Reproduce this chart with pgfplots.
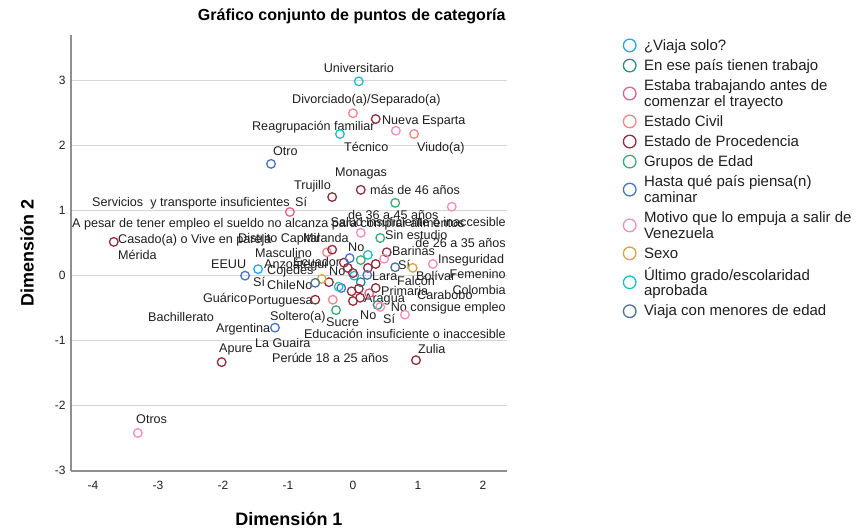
\documentclass[border=0pt]{standalone}
\usepackage{fontspec}
\setmainfont{Liberation Sans}
\usepackage{pgfplots}
\pgfplotsset{compat=1.18}

\definecolor{cSolo}{HTML}{22A8EA}
\definecolor{cTrab}{HTML}{2E8C86}
\definecolor{cAntes}{HTML}{E0648A}
\definecolor{cCivil}{HTML}{F4868C}
\definecolor{cProc}{HTML}{8E2F3E}
\definecolor{cEdad}{HTML}{39AD76}
\definecolor{cPais}{HTML}{4773C6}
\definecolor{cMot}{HTML}{F38EB8}
\definecolor{cSexo}{HTML}{D8A540}
\definecolor{cGrado}{HTML}{22BEC2}
\definecolor{cMen}{HTML}{4E7296}
\definecolor{axisgray}{HTML}{8F8F8F}
\definecolor{gridgray}{HTML}{D6D6D6}

% category label: [anchor]{x}{y}{text}
\newcommand{\lab}[4][base west]{\node[anchor=#1, inner sep=0pt, text=black!88,
  font=\fontsize{12.6}{14}\selectfont] at (axis cs:#2,#3) {#4};}

\begin{document}
\begin{tikzpicture}
\useasboundingbox (0,0) rectangle (857pt,529pt);
\begin{axis}[
  at={(71pt,58pt)}, anchor=south west,
  width=436pt, height=436pt, scale only axis,
  xmin=-4.338, xmax=2.37, ymin=-3.005, ymax=3.703,
  xtick={-4,-3,-2,-1,0,1,2}, ytick={-3,-2,-1,0,1,2,3},
  axis x line*=bottom, axis y line*=left,
  axis line style={-, draw=axisgray, line width=1.2pt},
  ymajorgrids, grid style={draw=gridgray, line width=1.2pt},
  major tick length=0pt,
  /pgf/number format/assume math mode=true,
  tick label style={font=\fontsize{12}{14}\selectfont, text=black!88},
  yticklabel style={xshift=-2pt},
  xticklabel style={yshift=-7pt},
  clip=false,
  title={Gráfico conjunto de puntos de categoría},
  title style={font=\bfseries\fontsize{16}{18}\selectfont, at={(axis description cs:0.644,1.0195)}, anchor=base, inner sep=0pt},
  xlabel={Dimensión 1},
  xlabel style={font=\bfseries\fontsize{18}{20}\selectfont, at={(axis description cs:0.5,-0.126)}, anchor=base, inner sep=0pt},
  ylabel={Dimensión 2},
  ylabel style={font=\bfseries\fontsize{18}{20}\selectfont, at={(axis description cs:-0.086,0.5)}, anchor=base, inner sep=0pt},
  every axis plot/.append style={only marks, mark=o, mark size=4.3pt, mark options={line width=1.3pt}},
  legend image code/.code={\draw[#1, mark size=6.3pt] plot coordinates {(0pt,0pt)};},
  legend style={at={(axis description cs:1.267,0.995)}, anchor=north west, draw=none, fill=none,
    inner sep=0pt, outer sep=0pt, row sep=3.6pt, column sep=6pt,
    font=\fontsize{15}{15.7}\selectfont, text=black!88,
    cells={anchor=west, align=left}},
]
\addplot[cSolo] coordinates {(-1.46,0.10) (0.02,0.00)};
\addlegendentry{\strut ¿Viaja solo?}
\addplot[cTrab] coordinates {(0.38,-0.45) (0.12,-0.10)};
\addlegendentry{\strut En ese país tienen trabajo}
\addplot[cAntes] coordinates {(-0.97,0.98) (0.25,-0.27)};
\addlegendentry{\strut Estaba trabajando antes de\\comenzar el trayecto\strut}
\addplot[cCivil] coordinates {(0.00,2.50) (0.94,2.18) (-0.40,0.36) (-0.31,-0.37)};
\addlegendentry{\strut Estado Civil}
\addplot[cProc] coordinates {
  (0.35,2.41) (0.12,1.32) (-0.32,1.21) (-3.68,0.52) (-2.02,-1.33) (0.97,-1.30)
  (-0.32,0.40) (0.52,0.36) (-0.14,0.20) (0.35,0.18) (0.23,0.12) (-0.08,0.12)
  (0.00,0.04) (-0.37,-0.10) (-0.02,-0.24) (0.09,-0.20) (0.35,-0.19) (-0.58,-0.37)
  (0.00,-0.39) (0.11,-0.34)};
\addlegendentry{\strut Estado de Procedencia}
\addplot[cEdad] coordinates {(0.65,1.12) (0.42,0.58) (0.12,0.24) (-0.26,-0.53)};
\addlegendentry{\strut Grupos de Edad}
\addplot[cPais] coordinates {(-1.26,1.72) (-1.66,0.00) (-1.20,-0.80) (-0.05,0.27) (0.22,0.01) (-0.18,-0.19)};
\addlegendentry{\strut Hasta qué país piensa(n)\\caminar\strut}
\addplot[cMot] coordinates {(0.66,2.23) (1.52,1.06) (1.23,0.18) (-3.31,-2.42) (0.80,-0.60) (0.42,-0.48) (0.12,0.66) (0.48,0.26)};
\addlegendentry{\strut Motivo que lo empuja a salir de\\Venezuela\strut}
\addplot[cSexo] coordinates {(-0.48,-0.05) (0.92,0.12)};
\addlegendentry{\strut Sexo}
\addplot[cGrado] coordinates {(0.09,2.99) (-0.20,2.18) (0.23,0.32) (-0.22,-0.17)};
\addlegendentry{\strut Último grado/escolaridad\\aprobada\strut}
\addplot[cMen] coordinates {(0.65,0.13) (-0.58,-0.11)};
\addlegendentry{\strut Viaja con menores de edad}

\lab[base]{0.09}{3.126}{Universitario}
\lab{-0.938}{2.649}{Divorciado(a)/Separado(a)}
\lab{0.446}{2.326}{Nueva Esparta}
\lab{-1.554}{2.234}{Reagrupación familiar}
\lab{-0.138}{1.911}{Técnico}
\lab{0.985}{1.911}{Viudo(a)}
\lab{-1.231}{1.849}{Otro}
\lab{-0.277}{1.526}{Monagas}
\lab{-0.908}{1.326}{Trujillo}
\lab{0.262}{1.249}{más de 46 años}
\lab{-4.015}{1.065}{Servicios\ \ y transporte insuficientes}
\lab{-0.892}{1.065}{Sí}
\lab{-4.323}{0.742}{A pesar de tener empleo el sueldo no alcanza para comprar alimentos}
\lab[base east]{2.354}{0.757}{Salud insuficiente o inaccesible}
\lab{-0.077}{0.865}{de 36 a 45 años}
\lab{-3.615}{0.495}{Casado(a) o Vive en pareja}
\lab{-1.769}{0.511}{Distrito Capital}
\lab{-0.769}{0.511}{Miranda}
\lab{-3.615}{0.249}{Mérida}
\lab{-1.508}{0.280}{Masculino}
\lab{-0.077}{0.372}{No}
\lab{0.492}{0.557}{Sin estudio}
\lab[base east]{2.354}{0.434}{de 26 a 35 años}
\lab{0.600}{0.311}{Barinas}
\lab{-2.185}{0.111}{EEUU}
\lab{-1.369}{0.111}{Anzoátegui}
\lab{-1.323}{0.018}{Cojedes}
\lab{-0.923}{0.142}{Ecuador}
\lab{0.692}{0.095}{Sí}
\lab{1.308}{0.188}{Inseguridad}
\lab{-0.369}{0.003}{No}
\lab{0.292}{-0.074}{Lara}
\lab{0.969}{-0.074}{Bolívar}
\lab[base east]{2.354}{-0.043}{Femenino}
\lab{0.677}{-0.151}{Falcón}
\lab{-1.538}{-0.166}{Sí}
\lab{-1.323}{-0.212}{Chile}
\lab{-0.877}{-0.212}{No}
\lab{0.431}{-0.305}{Primaria}
\lab{0.985}{-0.366}{Carabobo}
\lab[base east]{2.354}{-0.289}{Colombia}
\lab{0.169}{-0.412}{Aragua}
\lab{-2.308}{-0.412}{Guárico}
\lab{-1.615}{-0.443}{Portuguesa}
\lab[base east]{2.354}{-0.551}{No consigue empleo}
\lab{-3.154}{-0.705}{Bachillerato}
\lab{-1.277}{-0.689}{Soltero(a)}
\lab{-0.415}{-0.782}{Sucre}
\lab{0.108}{-0.674}{No}
\lab{0.462}{-0.735}{Sí}
\lab[base east]{2.354}{-0.966}{Educación insuficiente o inaccesible}
\lab{-2.108}{-0.874}{Argentina}
\lab{-1.508}{-1.105}{La Guaira}
\lab{-2.062}{-1.182}{Apure}
\lab{-1.246}{-1.335}{Perú}
\lab{-0.846}{-1.335}{de 18 a 25 años}
\lab{1.0}{-1.197}{Zulia}
\lab{-3.338}{-2.274}{Otros}
\end{axis}
\end{tikzpicture}
\end{document}
